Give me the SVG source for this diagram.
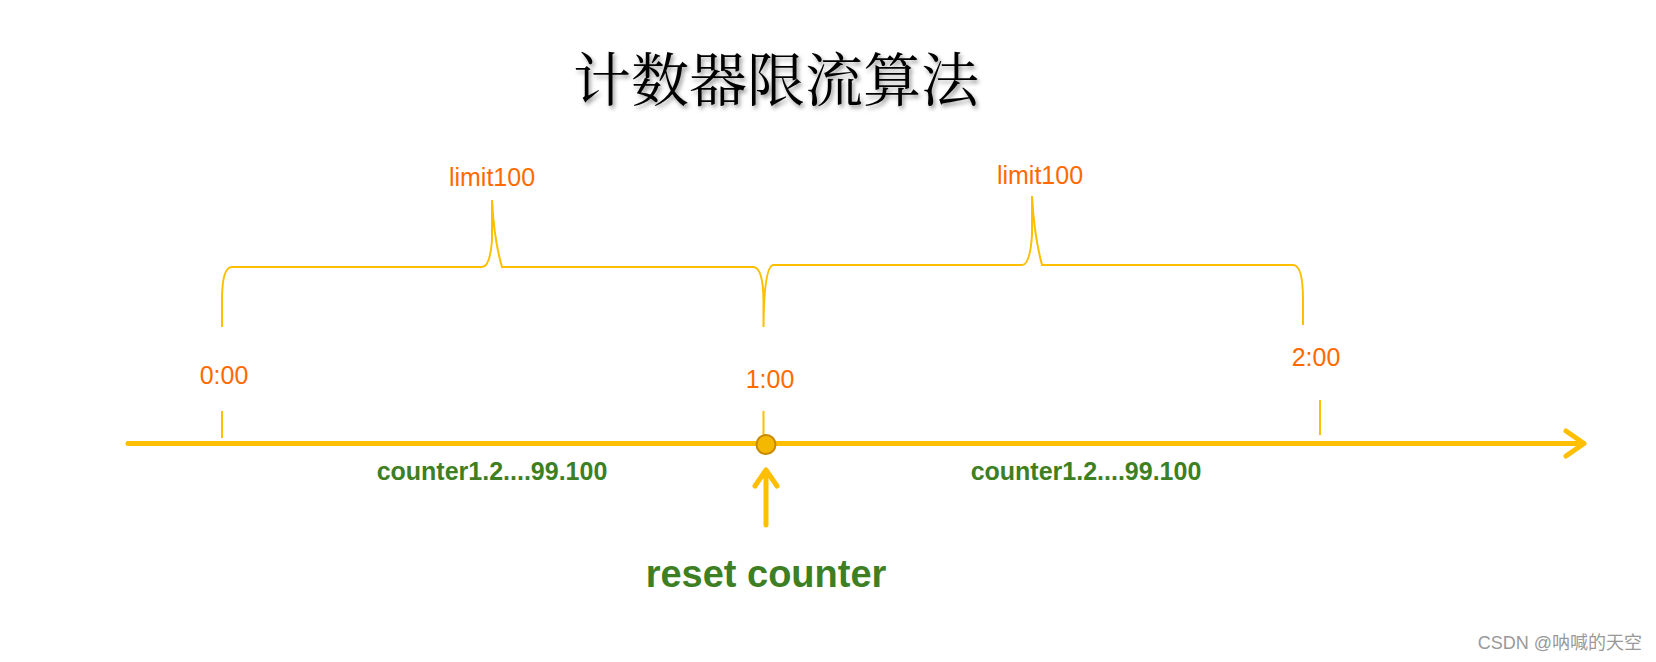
<svg xmlns="http://www.w3.org/2000/svg" width="1656" height="662" viewBox="0 0 1656 662">
<defs>
<style>
.y{fill:none;stroke:#fdbf00;stroke-width:2}
.ax{fill:none;stroke:#fdbf00;stroke-width:5;stroke-linecap:round;stroke-linejoin:round}
.o{font-family:"Liberation Sans",Arial,sans-serif;font-size:25px;fill:#ff6a00;text-anchor:middle}
.g{font-family:"Liberation Sans",Arial,sans-serif;font-weight:bold;fill:#3d7f22;text-anchor:middle}
</style>
<filter id="sh" x="-10%" y="-20%" width="120%" height="140%"><feDropShadow dx="2" dy="3" stdDeviation="2" flood-color="#000" flood-opacity="0.4"/></filter>
</defs>
<rect width="1656" height="662" fill="#fff"/>
<text x="776" y="101" font-family="'Noto Serif CJK SC','Noto Sans CJK SC',serif" font-size="58" text-anchor="middle" fill="#000" filter="url(#sh)">计数器限流算法</text>
<g id="connectors">
<path class="ax" d="M128 443.5H1584M1566 431L1584 443.5L1566 456"/>
<path class="y" d="M222 438V411M763.5 438V411M1320 435V400"/>
<path class="y" d="M222 327V300Q222 267 232 267H482Q490 267 492 240V200Q494 240 502 267H753Q763 267 763.5 300V327Q764 267 773 265H1022Q1030 265 1032 235V196Q1034 235 1042 265H1293Q1303 265 1303 300V325"/>
<path class="ax" d="M766 525V470M755 486L766 470L777 486" stroke-width="4"/>
</g>
<g id="dot"><circle cx="766" cy="444.5" r="9.5" fill="#f5b800" stroke="#c88a00" stroke-width="2"/></g>
<g id="labels">
<text class="o" x="492" y="186">limit100</text>
<text class="o" x="1040" y="184">limit100</text>
<text class="o" x="224" y="384">0:00</text>
<text class="o" x="770" y="388">1:00</text>
<text class="o" x="1316" y="366">2:00</text>
<text class="g" x="492" y="480" font-size="25">counter1.2....99.100</text>
<text class="g" x="1086" y="480" font-size="25">counter1.2....99.100</text>
<text class="g" x="766" y="587" font-size="38">reset counter</text>
<text x="1642" y="649" font-family="'Liberation Sans','Noto Sans CJK SC',sans-serif" font-size="18" fill="#999" text-anchor="end">CSDN @呐喊的天空</text>
</g>
</svg>
